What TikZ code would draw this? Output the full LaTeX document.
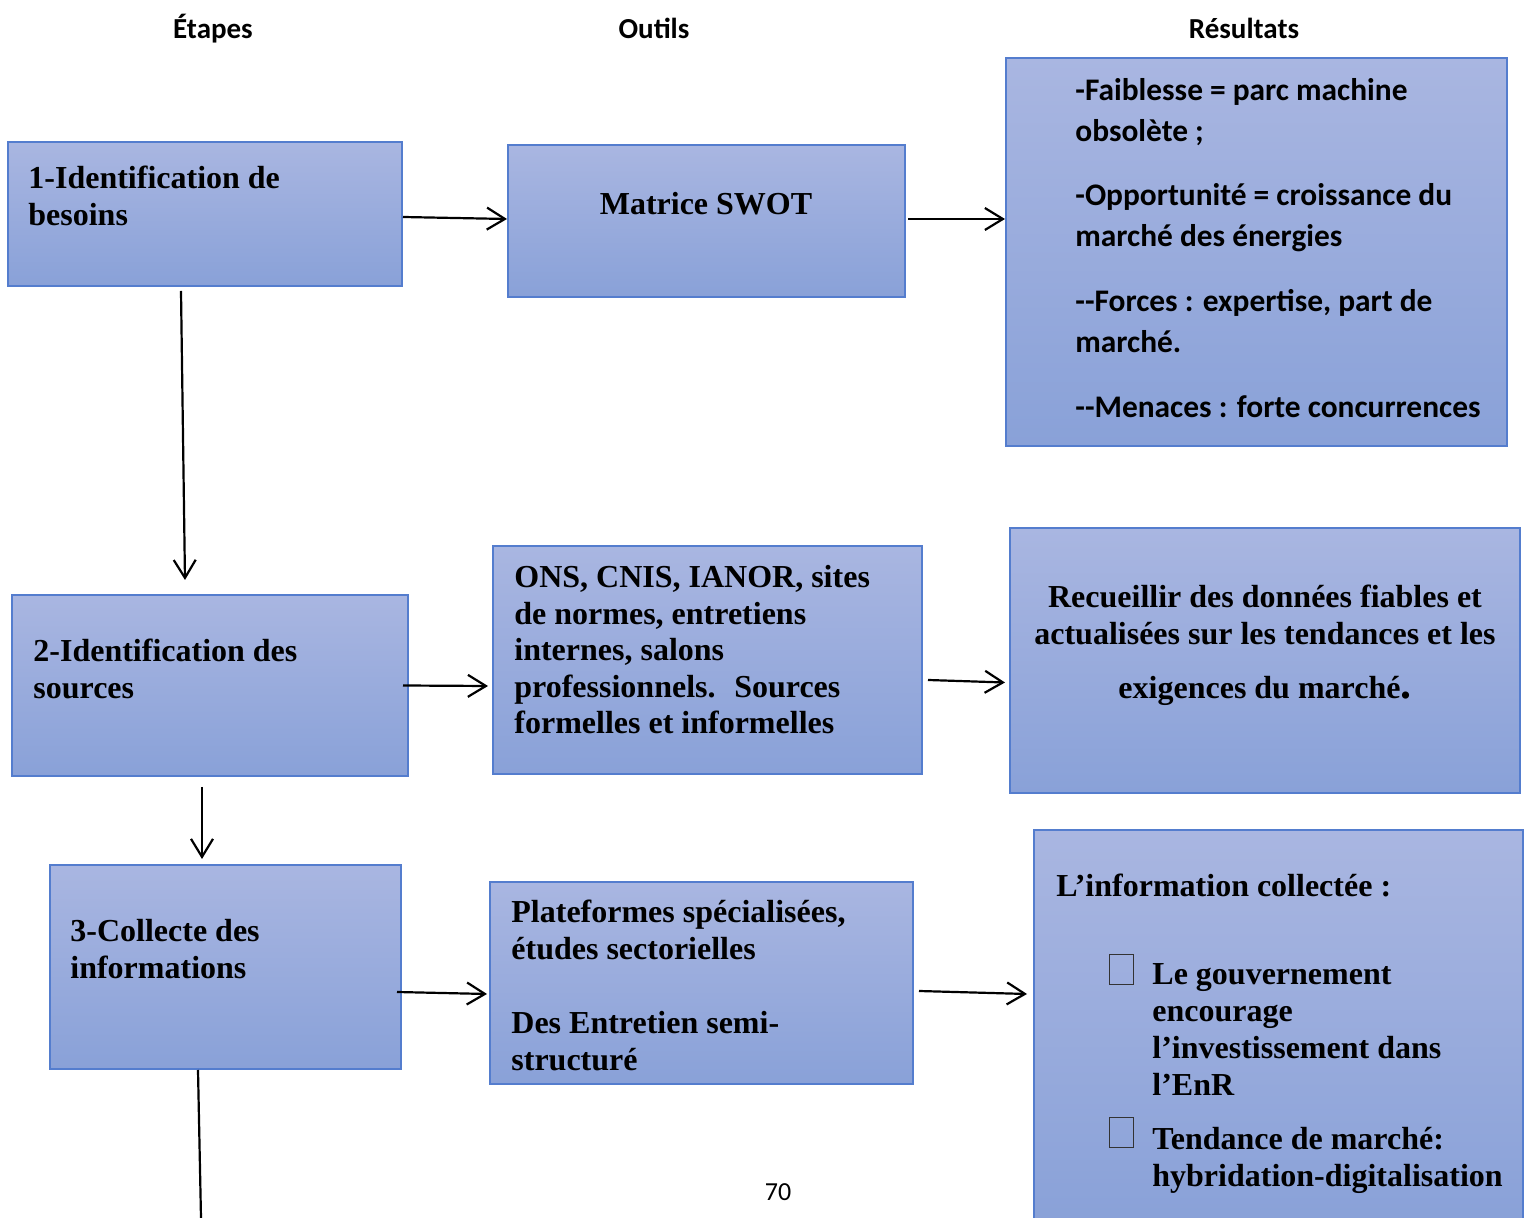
\documentclass[tikz,border=0pt]{standalone}
\usepackage{fontspec}
\setmainfont{Liberation Serif}
\newfontfamily\calibri{Carlito}
\usetikzlibrary{arrows.meta,fit,calc}

\definecolor{boxtop}{RGB}{169,182,225}
\definecolor{boxbot}{RGB}{137,161,216}
\definecolor{boxedge}{RGB}{84,125,206}

\begin{document}
\begin{tikzpicture}[x=0.5pt,y=-0.5pt,
  box/.style={draw=boxedge, line width=1pt, top color=boxtop, bottom color=boxbot, inner sep=0pt},
  flow/.style={-{Straight Barb[length=9pt,width=11pt]}, line width=1.1pt, black},
  plain/.style={line width=1.1pt, black},
  serif/.style={font=\fontsize{16}{18.5}\selectfont\bfseries, anchor=base west, align=left, inner sep=0pt},
  head/.style={font=\calibri\fontsize{14.5}{17}\selectfont\bfseries, anchor=base, inner sep=0pt},
  calib/.style={font=\calibri\fontsize{15.7}{20.5}\selectfont\bfseries, anchor=base west, align=left, inner sep=0pt},
  tick/.style={draw=black!80, line width=0.5pt}
]
\useasboundingbox (0,0) rectangle (1528,1218);

% column titles
\node[head] (h1) at (213,39) {Étapes};
\node[head] (h2) at (654,39) {Outils};
\node[head] (h3) at (1244,39) {Résultats};

% row 1 (multi-line texts are placed by the baseline of their last line)
\node[box, fit={(8,142) (402,286)}] (s1) {};
\node[box, fit={(508,145) (905,297)}] (t1) {};
\node[box, fit={(1006,58) (1507,446)}] (r1) {};
\node[serif] (s1t) at (28,226) {1-Identification de\\besoins};
\node[serif, anchor=base] (t1t) at (706,215) {Matrice SWOT};
\node[calib] (r1a) at (1075,142) {-Faiblesse = parc machine\\obsolète ;};
\node[calib] (r1b) at (1075,247) {-Opportunité = croissance du\\marché des énergies};
\node[calib] (r1c) at (1075,353) {--Forces : expertise, part de\\marché.};
\node[calib] (r1d) at (1075,418) {--Menaces : forte concurrences};

% row 2
\node[box, fit={(12,595) (408,776)}] (s2) {};
\node[box, fit={(493,546) (922,774)}] (t2) {};
\node[box, fit={(1010,528) (1520,793)}] (r2) {};
\node[serif] (s2t) at (33,699) {2-Identification des\\sources};
\node[serif, font=\fontsize{16}{18.25}\selectfont\bfseries] (t2t) at (514,734)
  {ONS, CNIS, IANOR, sites\\de normes, entretiens\\internes, salons\\professionnels.~ Sources\\formelles et informelles};
\node[serif, anchor=base, align=center] (r2t) at (1265,699)
  {Recueillir des données fiables et\\actualisées sur les tendances et les\\[8.5pt]exigences du marché{\fontsize{22}{22}\selectfont.}};

% row 3
\node[box, fit={(50,865) (401,1069)}] (s3) {};
\node[box, fit={(490,882) (913,1084)}] (t3) {};
\node[box, fit={(1034,830) (1523,1226)}] (r3) {};
\node[serif] (s3t) at (70,979) {3-Collecte des\\informations};
\node[serif] (t3t) at (511,1071) {Plateformes spécialisées,\\études sectorielles\\[18.5pt]Des Entretien semi-\\structuré};
\node[serif] (r3t) at (1056,897) {L’information collectée :};
\draw[tick] (1109,955) rectangle (1133,985);
\node[serif] (r3a) at (1152,1096) {Le gouvernement\\encourage\\l’investissement dans\\l’EnR};
\draw[tick] (1109,1118) rectangle (1133,1148);
\node[serif] (r3b) at (1152,1187) {Tendance de marché:\\hybridation-digitalisation};

% connectors
\draw[flow] ([yshift=-1.5pt]s1.east) -- ([yshift=1pt]t1.west);
\draw[flow] ([xshift=1pt,yshift=1pt]t1.east) -- ([yshift=16.5pt]r1.west);
\draw[flow] ([xshift=-12pt,yshift=-2pt]s1.south) -- ([xshift=-12.5pt,yshift=7pt]s2.north);
\draw[flow] ([xshift=-3pt]s2.east) -- ([xshift=-2pt,yshift=-13pt]t2.west);
\draw[flow] ([xshift=2.5pt,yshift=-10pt]t2.east) -- ([xshift=-2pt,yshift=-11pt]r2.west);
\draw[flow] ([xshift=-4pt,yshift=-5pt]s2.south) -- ([xshift=-11.75pt,yshift=2.5pt]s3.north);
\draw[flow] ([xshift=-2.5pt,yshift=-12.5pt]s3.east) -- ([xshift=-1pt,yshift=-5.5pt]t3.west);
\draw[flow] ([xshift=2.5pt,yshift=-4pt]t3.east) -- ([xshift=-3pt,yshift=17pt]r3.west);
\coordinate (tail) at (201,1218);
\draw[plain] ([xshift=-13.75pt]s3.south) -- (tail);

% page number
\node[font=\calibri\fontsize{13}{16}\selectfont, anchor=base, inner sep=0pt] (pg) at (778,1201) {70};
\end{tikzpicture}
\end{document}
